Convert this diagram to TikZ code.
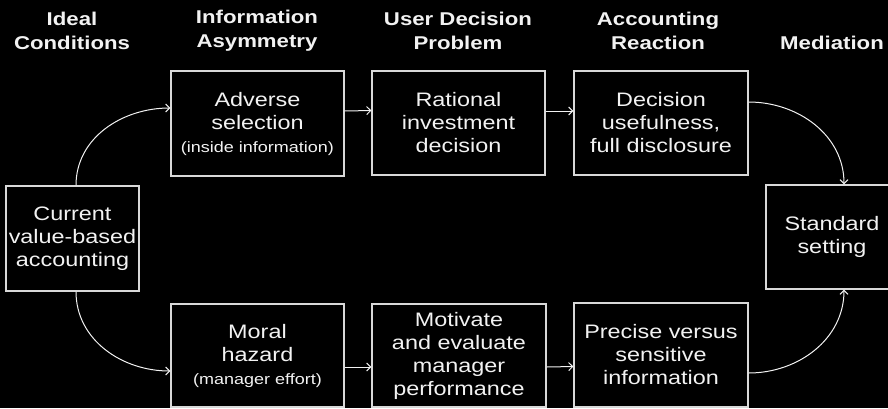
\documentclass[tikz,border=0pt]{standalone}
\usepackage{fontspec}
\setmainfont{Liberation Sans}[FakeStretch=1.2]
\usetikzlibrary{positioning,arrows.meta}
\definecolor{ink}{HTML}{F2F2F2}
\definecolor{frame}{HTML}{D9D9D9}
\newcommand{\detail}[1]{{\fontsize{15}{18}\selectfont #1}}

\begin{document}
\begin{tikzpicture}[
    x=1pt, y=-1pt,
    every node/.style={align=center, text=ink},
    heading/.style={font=\fontsize{18.5}{24}\selectfont\bfseries},
    stage/.style={rectangle, draw=frame, line width=1.3pt, fill=black, inner sep=0pt, minimum width=173pt, minimum height=104pt, font=\fontsize{19.5}{23}\selectfont},
    arrow/.style={-{Straight Barb[length=4pt,width=8pt]}, line width=1pt, color=ink}
]

% Canvas
\useasboundingbox (0,0) rectangle (888,408);
\fill[black] (0,0) rectangle (888,408);

% Column headings
\node[heading] (hideal) at (72,31) {Ideal\\Conditions};
\node[heading] (hinfo) at (257,31) {Information\\Asymmetry};
\node[heading] (huser) at (458,31) {User Decision\\Problem};
\node[heading] (hacct) at (658,31) {Accounting\\Reaction};
\node[heading] (hmed) at (832,43) {Mediation};

% Starting point
\node[stage, minimum width=133pt, minimum height=105pt] (current) at (72.5,238.5) {Current\\value-based\\accounting};

% Upper row
\node[stage, minimum height=105pt] (adverse) at (257.5,123.5) {Adverse\\selection\\\detail{(inside information)}};
\node[stage] (rational) at (458.5,123) {Rational\\investment\\decision};
\node[stage, minimum width=174pt] (useful) at (661,123) {Decision\\usefulness,\\full disclosure};

% Lower row
\node[stage, minimum height=103pt] (moral) at (257.5,355.5) {Moral\\hazard\\\detail{(manager effort)}};
\node[stage, minimum width=174pt, minimum height=103pt] (motivate) at (459,355.5) {Motivate\\and evaluate\\manager\\performance};
\node[stage, minimum width=174pt] (precise) at (661,355) {Precise versus\\sensitive\\information};

% Mediation
\node[stage, minimum width=132pt] (standard) at (832,237) {Standard\\setting};

% Branching arrows
\draw[arrow] ([xshift=3.5pt]current.north) to[out=90, in=180] ([yshift=15.5pt]adverse.west);
\draw[arrow] ([xshift=3.5pt]current.south) to[out=-90, in=180] ([yshift=-15.5pt]moral.west);

% Upper row arrows
\draw[arrow] ([yshift=12.5pt]adverse.east) -- ([yshift=12.5pt]rational.west);
\draw[arrow] ([yshift=12pt]rational.east) -- ([yshift=12pt]useful.west);

% Lower row arrows
\draw[arrow] ([yshift=-11.5pt]moral.east) -- ([yshift=-11.5pt]motivate.west);
\draw[arrow] ([yshift=-11.5pt]motivate.east) -- ([yshift=-11.5pt]precise.west);

% Into standard setting
\draw[arrow] ([yshift=21pt]useful.east) to[out=0, in=90] ([xshift=12pt]standard.north);
\draw[arrow] ([yshift=-18pt]precise.east) to[out=0, in=-90] ([xshift=12pt]standard.south);

\end{tikzpicture}
\end{document}
